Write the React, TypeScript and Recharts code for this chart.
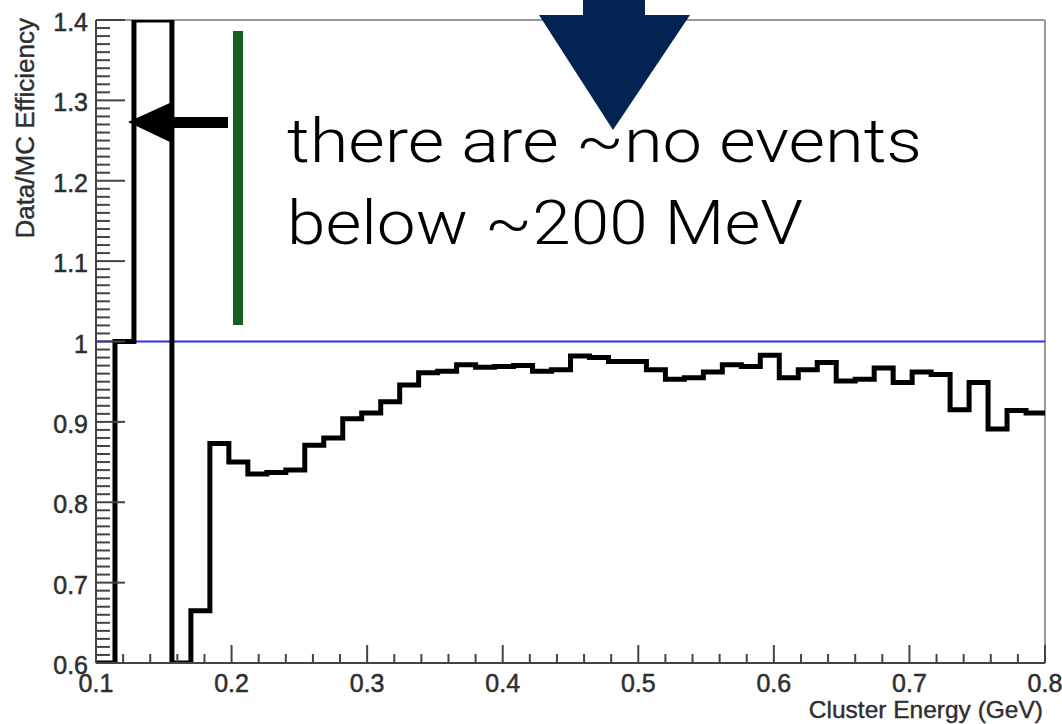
import React from 'react';
import { ComposedChart, Line, XAxis, YAxis, ReferenceLine } from 'recharts';

// Histogram bin edges (GeV) – 50 bins from 0.1 to 0.8
const binEdges = [
  0.100, 0.114, 0.128, 0.142, 0.156, 0.170, 0.184, 0.198, 0.212, 0.226,
  0.240, 0.254, 0.268, 0.282, 0.296, 0.310, 0.324, 0.338, 0.352, 0.366,
  0.380, 0.394, 0.408, 0.422, 0.436, 0.450, 0.464, 0.478, 0.492, 0.506,
  0.520, 0.534, 0.548, 0.562, 0.576, 0.590, 0.604, 0.618, 0.632, 0.646,
  0.660, 0.674, 0.688, 0.702, 0.716, 0.730, 0.744, 0.758, 0.772, 0.786,
  0.800,
];

// Data/MC efficiency per bin (values outside the frame shown at the frame edge)
const efficiency = [
  0.6, 1.0, 1.4, 1.4, 0.6, 0.665, 0.873, 0.850, 0.835, 0.837,
  0.840, 0.871, 0.880, 0.904, 0.911, 0.925, 0.946, 0.961, 0.963, 0.971,
  0.968, 0.969, 0.970, 0.963, 0.965, 0.982, 0.980, 0.975, 0.975, 0.965,
  0.953, 0.955, 0.962, 0.971, 0.969, 0.983, 0.955, 0.965, 0.974, 0.951,
  0.953, 0.967, 0.949, 0.962, 0.959, 0.915, 0.949, 0.891, 0.914, 0.911,
];

const xMajorTicks = [0.1, 0.2, 0.3, 0.4, 0.5, 0.6, 0.7, 0.8];
const xTickLabels = ['0.1', '0.2', '0.3', '0.4', '0.5', '0.6', '0.7', '0.8'];
const yMajorTicks = [0.6, 0.7, 0.8, 0.9, 1.0, 1.1, 1.2, 1.3, 1.4];
const yTickLabels = ['0.6', '0.7', '0.8', '0.9', '1', '1.1', '1.2', '1.3', '1.4'];

const xTitle = 'Cluster Energy (GeV)';
const yTitle = 'Data/MC Efficiency';
const noteLines = ['there are ~no events', 'below ~200 MeV'];

// minor tick positions (axis decoration)
const xTicks = Array.from({ length: 36 }, (_, i) => +(0.1 + i * 0.02).toFixed(2));
const yTicks = Array.from({ length: 81 }, (_, i) => +(0.6 + i * 0.01).toFixed(2));

// step data: one point per lower bin edge, plus the closing edge
const histData = binEdges.map((x, i) => ({
  x,
  y: efficiency[Math.min(i, efficiency.length - 1)],
}));

const FONT = '"Liberation Sans", Arial, Helvetica, sans-serif';
const LABEL_COLOR = '#2e2e2e';
const NOTE_WIDTHS = [635, 516];

const findMajor = (v: number, majors: number[]) =>
  majors.findIndex((m) => Math.abs(m - v) < 1e-6);

const XTick = (props: any) => {
  const { x, y, payload } = props;
  const idx = findMajor(payload.value, xMajorTicks);
  const len = idx >= 0 ? 18 : 9;
  return (
    <g>
      <line x1={x} y1={y} x2={x} y2={y - len} stroke="#444" strokeWidth={2} />
      {idx >= 0 && (
        <text x={x} y={y + 29} textAnchor="middle" fontFamily={FONT} fontSize={25} fill={LABEL_COLOR} stroke={LABEL_COLOR} strokeWidth={0.5}>
          {xTickLabels[idx]}
        </text>
      )}
    </g>
  );
};

const YTick = (props: any) => {
  const { x, y, payload } = props;
  const idx = findMajor(payload.value, yMajorTicks);
  const len = idx >= 0 ? 29 : 14;
  return (
    <g>
      <line x1={x} y1={y} x2={x + len} y2={y} stroke="#444" strokeWidth={2} />
      {idx >= 0 && (
        <text x={x - 8} y={y + 11} textAnchor="end" fontFamily={FONT} fontSize={25} fill={LABEL_COLOR} stroke={LABEL_COLOR} strokeWidth={0.5}>
          {yTickLabels[idx]}
        </text>
      )}
    </g>
  );
};

export default function App() {
  return (
    <div style={{ position: 'absolute', left: 0, top: 0, width: 1062, height: 724, background: '#fff', overflow: 'hidden' }}>
      <ComposedChart width={1062} height={724} data={histData} margin={{ top: 20, right: 17, bottom: 0, left: 0 }}>
        <XAxis
          type="number"
          dataKey="x"
          domain={[0.1, 0.8]}
          ticks={xTicks}
          interval={0}
          tickSize={0}
          tickMargin={0}
          tickLine={false}
          tick={<XTick />}
          height={61}
          axisLine={{ stroke: '#444', strokeWidth: 2 }}
          allowDataOverflow
        />
        <YAxis
          type="number"
          domain={[0.6, 1.4]}
          ticks={yTicks}
          interval={0}
          tickSize={0}
          tickMargin={0}
          tickLine={false}
          tick={<YTick />}
          width={96}
          axisLine={{ stroke: '#444', strokeWidth: 2 }}
          allowDataOverflow
        />
        <ReferenceLine y={1.4} stroke="#999" strokeWidth={2} />
        <ReferenceLine x={0.8} stroke="#999" strokeWidth={2} />
        <ReferenceLine y={1} stroke="#2a2aff" strokeWidth={2} />
        <Line
          type="stepAfter"
          dataKey="y"
          stroke="#000"
          strokeWidth={5}
          dot={false}
          activeDot={false}
          isAnimationActive={false}
        />
      </ComposedChart>
      <svg
        width={1062}
        height={724}
        style={{ position: 'absolute', left: 0, top: 0, pointerEvents: 'none' }}
      >
        <text transform="translate(34,18) rotate(-90)" textAnchor="end" fontFamily={FONT} fontSize={26} fill={LABEL_COLOR} stroke={LABEL_COLOR} strokeWidth={0.4}>
          {yTitle}
        </text>
        <text x={1043} y={718} textAnchor="end" fontFamily={FONT} fontSize={24.5} fill={LABEL_COLOR} stroke={LABEL_COLOR} strokeWidth={0.4}>
          {xTitle}
        </text>
        {/* green vertical marker */}
        <rect x={233} y={31} width={10} height={294} fill="#175e20" />
        {/* black left arrow */}
        <polygon points="128,122 172,102 172,117 228,117 228,128 172,128 172,143" fill="#000" />
        {/* navy down arrow */}
        <polygon points="583,0 645,0 645,15 690,15 613,130 539,15 583,15" fill="#032452" />
        {noteLines.map((t, i) => (
          <text
            key={t}
            x={287}
            y={162 + i * 82}
            fontFamily='Roboto, Inter, "Open Sans", sans-serif'
            fontWeight={300}
            fontSize={62}
            textLength={NOTE_WIDTHS[i]}
            lengthAdjust="spacingAndGlyphs"
            fill="#000"
          >
            {t}
          </text>
        ))}
      </svg>
    </div>
  );
}
